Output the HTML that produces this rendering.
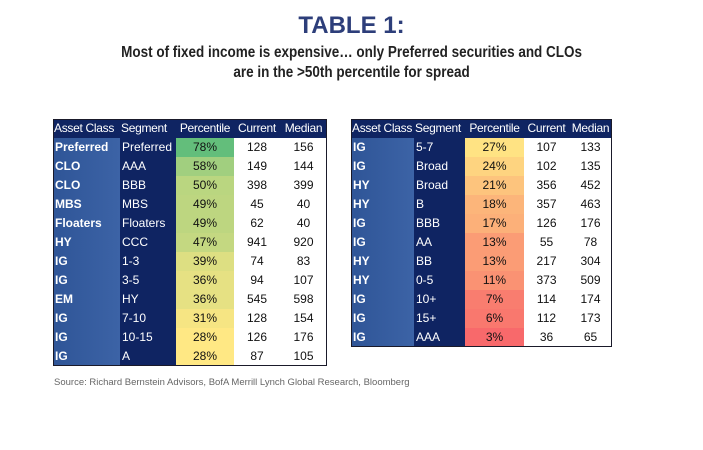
<!DOCTYPE html>
<html><head><meta charset="utf-8">
<style>
body{margin:0;width:703px;height:450px;background:#fff;position:relative;overflow:hidden;font-family:"Liberation Sans",sans-serif}
.t{position:absolute;left:0;width:703px;text-align:center}
.cell{position:absolute;box-sizing:border-box;font-size:12px;line-height:19px;white-space:nowrap;overflow:hidden}
.tbl{position:absolute;border:1px solid #1a1a2a;box-sizing:border-box;z-index:5}
</style></head><body>
<div class="t" style="top:12px;font-size:24px;font-weight:bold;color:#2d3e7a">TABLE 1:</div>
<div class="t" style="top:43px;font-weight:bold;font-size:15.5px;line-height:20px;color:#222;transform:scaleX(0.87);transform-origin:352px 0">Most of fixed income is expensive… only Preferred securities and CLOs<br>are in the &gt;50th percentile for spread</div>
<div id="root"></div>
<div style="position:absolute;left:54px;top:377px;font-size:9.5px;color:#666">Source: Richard Bernstein Advisors, BofA Merrill Lynch Global Research, Bloomberg</div>
<script>
const leftAsset=["Preferred","CLO","CLO","MBS","Floaters","HY","IG","IG","EM","IG","IG","IG"];
const leftSeg=["Preferred","AAA","BBB","MBS","Floaters","CCC","1-3","3-5","HY","7-10","10-15","A"];
const leftPct=[78,58,50,49,49,47,39,36,36,31,28,28];
const leftCur=[128,149,398,45,62,941,74,94,545,128,126,87];
const leftMed=[156,144,399,40,40,920,83,107,598,154,176,105];
const rightAsset=["IG","IG","HY","HY","IG","IG","HY","HY","IG","IG","IG"];
const rightSeg=["5-7","Broad","Broad","B","BBB","AA","BB","0-5","10+","15+","AAA"];
const rightPct=[27,24,21,18,17,13,13,11,7,6,3];
const rightCur=[107,102,356,357,126,55,217,373,114,112,36];
const rightMed=[133,135,452,463,176,78,304,509,174,173,65];
const headers=["Asset Class","Segment","Percentile","Current","Median"];
function mix(a,b,t){return a.map((v,i)=>Math.round(v+(b[i]-v)*t));}
function pctColor(p){
  const red=[248,105,107],yel=[255,232,132],grn=[99,190,123];
  let c=p<=28?mix(red,yel,(p-3)/25):mix(yel,grn,Math.min(1,(p-28)/50));
  return `rgb(${c.join(',')})`;
}
const root=document.getElementById('root');
function cell(x,y,w,txt,style,name){
  const d=document.createElement('div');d.className='cell';
  d.style.cssText=`left:${x}px;top:${y}px;width:${w}px;height:19px;`+style;
  d.textContent=txt;
  
  
  root.appendChild(d);
}
function table(x0,cols,asset,seg,pct,cur,med,name){
  const y0=119,rh=19;
  const W=cols.reduce((a,b)=>a+b,0);
  let xs=[x0];cols.forEach(c=>xs.push(xs[xs.length-1]+c));
  headers.forEach((h,i)=>cell(xs[i],y0,cols[i],h,'background:#0f2462;color:#fff;padding-left:1px;letter-spacing:-0.3px;'+(i>1?'text-align:center;padding-left:0;':''),'header-'+h.toLowerCase().replace(' ','-')));
  asset.forEach((a,r)=>{
    const y=y0+rh*(r+1);
    cell(xs[0],y,cols[0],a,'background:linear-gradient(90deg,#2f5597,#3c63a6);color:#fff;font-weight:bold;padding-left:2px;','asset-class-cell');
    cell(xs[1],y,cols[1],seg[r],'background:#0f2462;color:#fff;padding-left:2px;','segment-cell');
    cell(xs[2],y,cols[2],pct[r]+'%','background:'+pctColor(pct[r])+';color:#111;text-align:center;','percentile-cell');
    cell(xs[3],y,cols[3],cur[r],'background:#fff;color:#111;text-align:center;','current-cell');
    cell(xs[4],y,cols[4],med[r],'background:#fff;color:#111;text-align:center;','median-cell');
  });
  const t=document.createElement('div');t.className='tbl';
  t.style.cssText=`left:${x0}px;top:${y0}px;width:${W}px;height:${rh*(asset.length+1)}px;`;
  
  
  root.appendChild(t);
}
table(53,[67,56,58,46,47],leftAsset,leftSeg,leftPct,leftCur,leftMed,'left-table');
table(351,[63,51,59,45,43],rightAsset,rightSeg,rightPct,rightCur,rightMed,'right-table');
</script>
</body></html>
